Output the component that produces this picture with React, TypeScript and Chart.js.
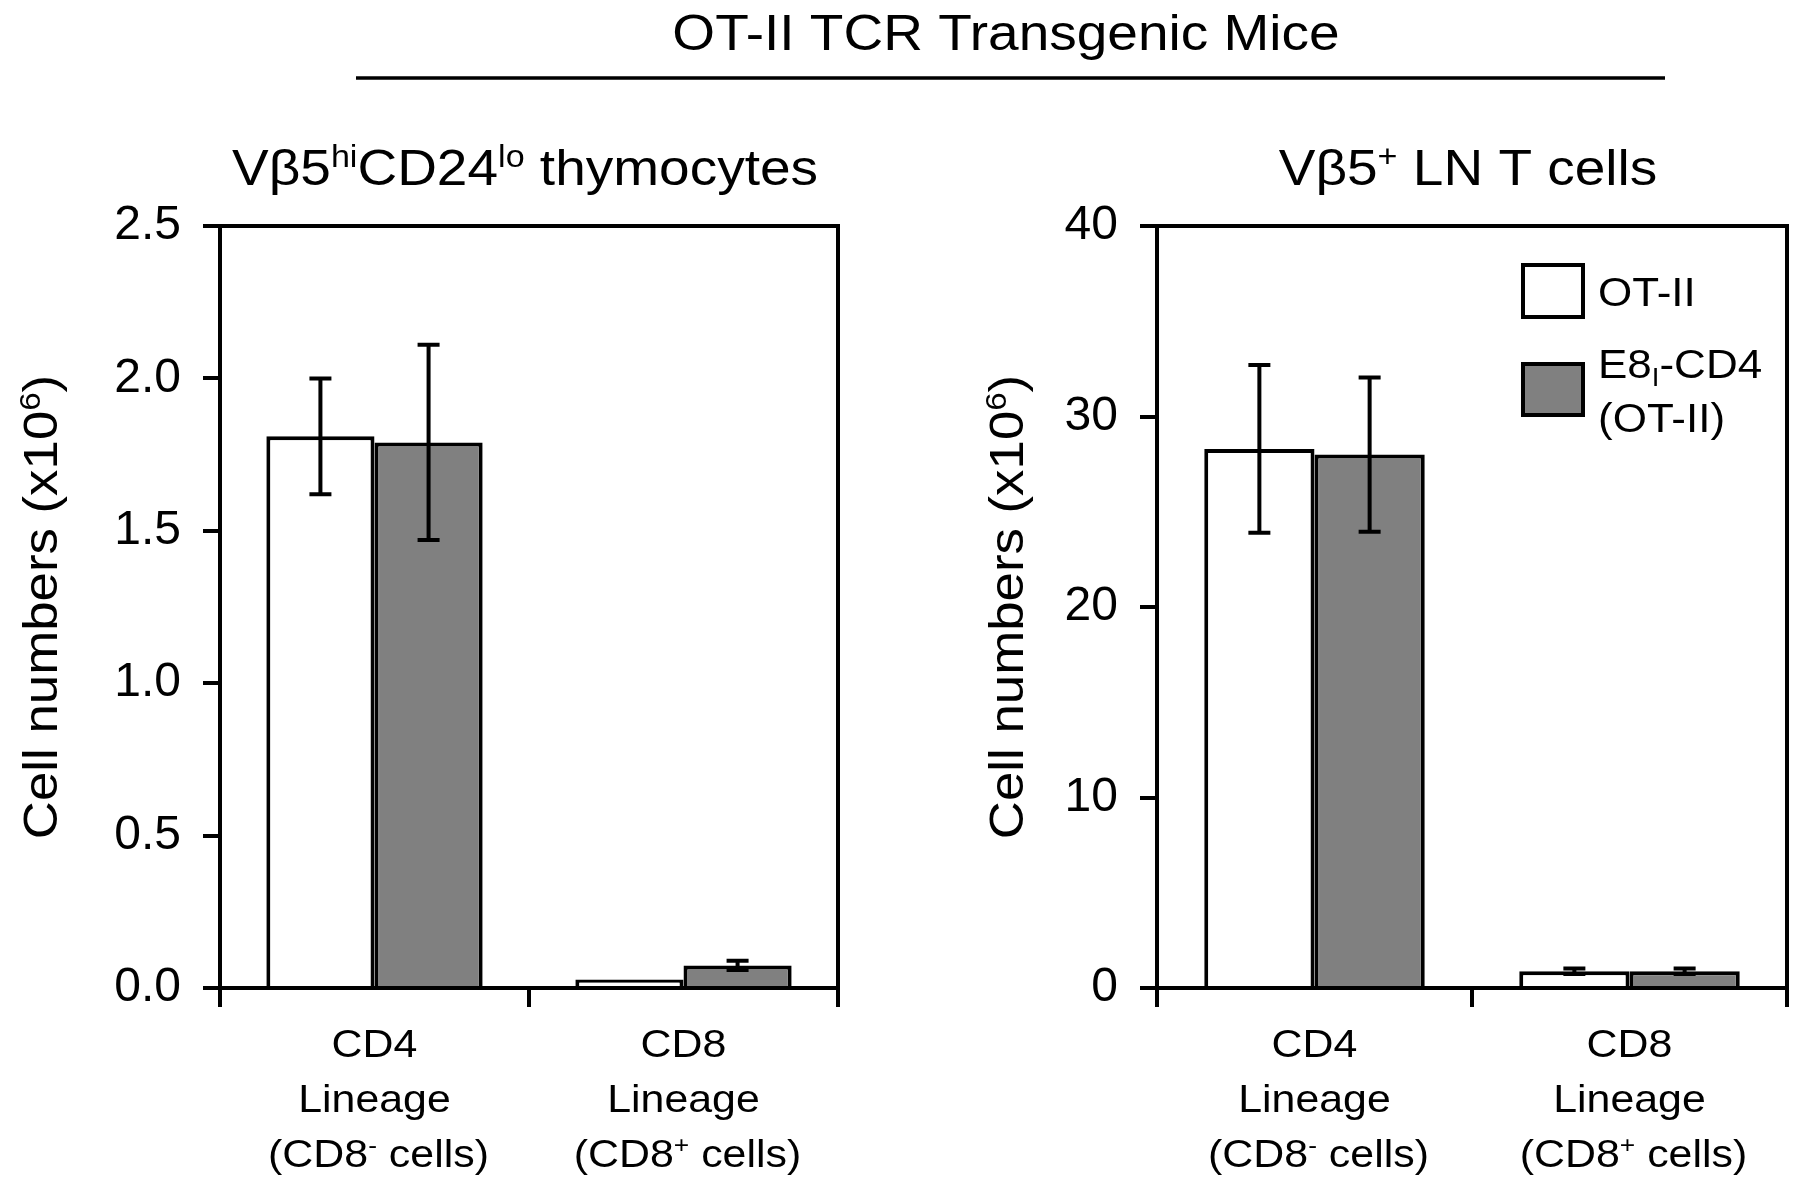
import React, { useEffect, useRef } from 'react';
import { Chart, registerables } from 'chart.js';

Chart.register(...registerables);

// ---------- data ----------
const overallTitle = 'OT-II TCR Transgenic Mice';
const seriesNames = ['OT-II', 'E8I-CD4 (OT-II)'];
const categoryNames = ['CD4', 'CD8'];
const categorySigns = ['-', '+'];

// Vβ5hi CD24lo thymocytes (x10^6)
const thymusOT2 = [1.81, 0.028];
const thymusE8 = [1.79, 0.074];
const thymusOT2Err = [0.19, 0];
const thymusE8Err = [0.32, 0.015];
const thymusTicks = [0, 0.5, 1.0, 1.5, 2.0, 2.5];

// Vβ5+ LN T cells (x10^6)
const lnOT2 = [28.3, 0.88];
const lnE8 = [28.0, 0.88];
const lnOT2Err = [4.4, 0.15];
const lnE8Err = [4.05, 0.15];
const lnTicks = [0, 10, 20, 30, 40];

// ---------- style ----------
const FONT = '"Liberation Sans", Arial, Helvetica, sans-serif';
const SX = 1.1;
const WHITE = '#ffffff';
const GRAY = '#808080';
const LW = 4;
const W = 1800;
const H = 1186;

type Seg = { t: string; sup?: boolean; sub?: boolean };

function drawRich(
  ctx: CanvasRenderingContext2D,
  segs: Seg[],
  x: number,
  y: number,
  size: number,
  align: 'left' | 'center',
  rotate = 0
) {
  ctx.save();
  ctx.translate(x, y);
  if (rotate) ctx.rotate(rotate);
  ctx.scale(SX, 1);
  const fontFor = (s: Seg) => `${s.sup || s.sub ? Math.round(size * 0.62) : size}px ${FONT}`;
  let w = 0;
  for (const s of segs) {
    ctx.font = fontFor(s);
    w += ctx.measureText(s.t).width;
  }
  let cx = align === 'center' ? -w / 2 : 0;
  ctx.textAlign = 'left';
  ctx.textBaseline = 'alphabetic';
  ctx.fillStyle = '#000';
  for (const s of segs) {
    ctx.font = fontFor(s);
    const dy = s.sup ? -size * 0.36 : s.sub ? size * 0.2 : 0;
    ctx.fillText(s.t, cx, dy);
    cx += ctx.measureText(s.t).width;
  }
  ctx.restore();
}

type PanelCfg = {
  ot2: number[];
  e8: number[];
  ot2Err: number[];
  e8Err: number[];
  ticks: number[];
  decimals: number;
  title: Seg[];
  padLeft: number;
  padRight: number;
  yWidth: number;
  yTitleX: number;
  legend: boolean;
  overall: boolean;
};

const PLOT_TOP = 226;
const PLOT_BOTTOM = 988;

function buildChart(canvas: HTMLCanvasElement, cfg: PanelCfg) {
  const errs = [cfg.ot2Err, cfg.e8Err];
  const plugin = {
    id: 'decor',
    afterDatasetsDraw(chart: any) {
      const ctx: CanvasRenderingContext2D = chart.ctx;
      const area = chart.chartArea;
      const yScale = chart.scales.y;
      const xScale = chart.scales.x;
      ctx.save();
      // frame
      ctx.strokeStyle = '#000';
      ctx.lineWidth = LW;
      ctx.strokeRect(area.left, area.top, area.right - area.left, area.bottom - area.top);
      // error bars
      chart.data.datasets.forEach((ds: any, di: number) => {
        const meta = chart.getDatasetMeta(di);
        meta.data.forEach((el: any, j: number) => {
          const v = ds.data[j];
          const e = errs[di][j];
          if (!e) return;
          const yt = yScale.getPixelForValue(v + e);
          const yb = yScale.getPixelForValue(v - e);
          const x = el.x;
          ctx.beginPath();
          ctx.moveTo(x, yt);
          ctx.lineTo(x, yb);
          ctx.moveTo(x - 11, yt);
          ctx.lineTo(x + 11, yt);
          ctx.moveTo(x - 11, yb);
          ctx.lineTo(x + 11, yb);
          ctx.stroke();
        });
      });
      ctx.restore();

      // subtitle
      drawRich(ctx, cfg.title, (area.left + area.right) / 2 - 4, 185, 50, 'center');
      // y-axis title
      const yt = 48;
      drawRich(
        ctx,
        [{ t: 'Cell numbers (x10' }, { t: '6', sup: true }, { t: ')' }],
        cfg.yTitleX + yt * 0.36,
        (area.top + area.bottom) / 2,
        yt,
        'center',
        -Math.PI / 2
      );
      // x category labels
      categoryNames.forEach((c, i) => {
        const cx = xScale.getPixelForValue(i);
        drawRich(ctx, [{ t: c }], cx, 1057, 39, 'center');
        drawRich(ctx, [{ t: 'Lineage' }], cx, 1112, 39, 'center');
        drawRich(
          ctx,
          [{ t: '(CD8' }, { t: categorySigns[i], sup: true }, { t: ' cells)' }],
          cx + 4,
          1167,
          39,
          'center'
        );
      });

      if (cfg.overall) {
        drawRich(ctx, [{ t: overallTitle }], 1006, 50, 50, 'center');
        ctx.save();
        ctx.strokeStyle = '#000';
        ctx.lineWidth = 3.5;
        ctx.beginPath();
        ctx.moveTo(356, 78);
        ctx.lineTo(1665, 78);
        ctx.stroke();
        ctx.restore();
      }

      if (cfg.legend) {
        const colors = [WHITE, GRAY];
        const boxes = [
          [1523, 265, 60, 52],
          [1523, 364, 60, 51],
        ];
        ctx.save();
        ctx.lineWidth = LW;
        ctx.strokeStyle = '#000';
        boxes.forEach((b, i) => {
          ctx.fillStyle = colors[i];
          ctx.fillRect(b[0], b[1], b[2], b[3]);
          ctx.strokeRect(b[0], b[1], b[2], b[3]);
        });
        ctx.restore();
        drawRich(ctx, [{ t: seriesNames[0] }], 1598, 306, 40, 'left');
        const [first, second] = seriesNames[1].split(' ');
        drawRich(ctx, [{ t: first.slice(0, 2) }, { t: first.slice(2, 3), sub: true }, { t: first.slice(3) }], 1598, 378, 40, 'left');
        drawRich(ctx, [{ t: second }], 1598, 432, 40, 'left');
      }
    },
  };

  const barStyle = {
    borderColor: '#000',
    borderWidth: LW,
    borderSkipped: 'start',
    barPercentage: 1.0,
    categoryPercentage: 0.7,
  };

  return new Chart(canvas, {
    type: 'bar',
    data: {
      labels: categoryNames,
      datasets: [
        { label: seriesNames[0], data: cfg.ot2, backgroundColor: WHITE, ...barStyle },
        { label: seriesNames[1], data: cfg.e8, backgroundColor: GRAY, ...barStyle },
      ],
    },
    options: {
      animation: false,
      responsive: true,
      maintainAspectRatio: false,
      events: [],
      layout: {
        padding: { left: cfg.padLeft, right: cfg.padRight, top: PLOT_TOP, bottom: 0 },
      },
      plugins: {
        legend: { display: false },
        title: { display: false },
        tooltip: { enabled: false },
      },
      scales: {
        x: {
          type: 'category',
          offset: true,
          grid: {
            offset: true,
            drawOnChartArea: false,
            drawTicks: true,
            tickLength: 19,
            tickWidth: LW,
            tickColor: '#000',
            lineWidth: LW,
            color: '#000',
          },
          border: { display: true, color: '#000', width: LW },
          ticks: { display: false },
          afterFit: (s: any) => {
            s.height = H - PLOT_BOTTOM;
          },
        },
        y: {
          type: 'linear',
          min: cfg.ticks[0],
          max: cfg.ticks[cfg.ticks.length - 1],
          afterBuildTicks: (s: any) => {
            s.ticks = cfg.ticks.map((v) => ({ value: v }));
          },
          ticks: {
            color: '#000',
            padding: 22,
            font: { family: FONT, size: 48 },
            callback: (v: any) => Number(v).toFixed(cfg.decimals),
          },
          grid: {
            drawOnChartArea: false,
            drawTicks: true,
            tickLength: 17,
            tickWidth: LW,
            tickColor: '#000',
            lineWidth: LW,
            color: '#000',
          },
          border: { display: true, color: '#000', width: LW },
          afterFit: (s: any) => {
            s.width = cfg.yWidth;
          },
        },
      },
    },
    plugins: [plugin],
  } as any);
}

export default function App() {
  const leftRef = useRef<HTMLCanvasElement | null>(null);
  const rightRef = useRef<HTMLCanvasElement | null>(null);

  useEffect(() => {
    const charts: Chart[] = [];
    if (leftRef.current) {
      charts.push(
        buildChart(leftRef.current, {
          ot2: thymusOT2,
          e8: thymusE8,
          ot2Err: thymusOT2Err,
          e8Err: thymusE8Err,
          ticks: thymusTicks,
          decimals: 1,
          title: [{ t: 'Vβ5' }, { t: 'hi', sup: true }, { t: 'CD24' }, { t: 'lo', sup: true }, { t: ' thymocytes' }],
          padLeft: 0,
          padRight: W - 838,
          yWidth: 220,
          yTitleX: 40,
          legend: false,
          overall: true,
        })
      );
    }
    if (rightRef.current) {
      charts.push(
        buildChart(rightRef.current, {
          ot2: lnOT2,
          e8: lnE8,
          ot2Err: lnOT2Err,
          e8Err: lnE8Err,
          ticks: lnTicks,
          decimals: 0,
          title: [{ t: 'Vβ5' }, { t: '+', sup: true }, { t: ' LN T cells' }],
          padLeft: 900,
          padRight: W - 1787,
          yWidth: 1157 - 900,
          yTitleX: 1006,
          legend: true,
          overall: false,
        })
      );
    }
    return () => charts.forEach((c) => c.destroy());
  }, []);

  const layer: React.CSSProperties = { position: 'absolute', left: 0, top: 0, width: W, height: H };
  return (
    <div style={{ position: 'absolute', left: 0, top: 0, width: W, height: H, background: '#fff' }}>
      <div style={layer}>
        <canvas ref={leftRef} />
      </div>
      <div style={layer}>
        <canvas ref={rightRef} />
      </div>
    </div>
  );
}
